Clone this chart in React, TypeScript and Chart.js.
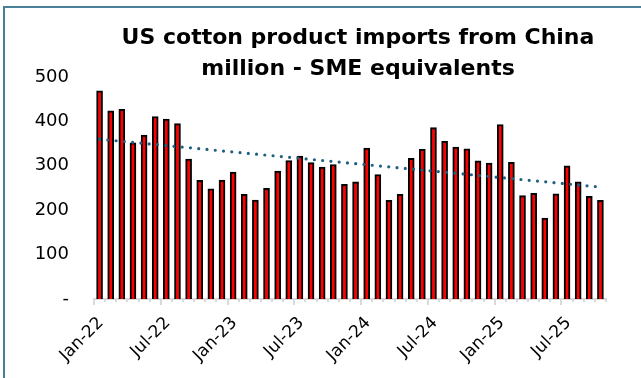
import React, { useEffect, useRef } from 'react';
import { Chart, registerables } from 'chart.js';

Chart.register(...registerables);

const months = [
  'Jan-22', 'Feb-22', 'Mar-22', 'Apr-22', 'May-22', 'Jun-22', 'Jul-22', 'Aug-22', 'Sep-22', 'Oct-22', 'Nov-22', 'Dec-22',
  'Jan-23', 'Feb-23', 'Mar-23', 'Apr-23', 'May-23', 'Jun-23', 'Jul-23', 'Aug-23', 'Sep-23', 'Oct-23', 'Nov-23', 'Dec-23',
  'Jan-24', 'Feb-24', 'Mar-24', 'Apr-24', 'May-24', 'Jun-24', 'Jul-24', 'Aug-24', 'Sep-24', 'Oct-24', 'Nov-24', 'Dec-24',
  'Jan-25', 'Feb-25', 'Mar-25', 'Apr-25', 'May-25', 'Jun-25', 'Jul-25', 'Aug-25', 'Sep-25', 'Oct-25',
];

const imports = [
  469, 424, 427, 352, 369, 411, 405, 395, 315, 267, 248, 268,
  286, 236, 223, 249, 288, 312, 322, 307, 297, 303, 258, 264,
  340, 280, 222, 236, 317, 337, 386, 355, 342, 338, 311, 306,
  393, 308, 233, 238, 182, 237, 300, 264, 231, 222,
];

// linear trend line, read at first and last month
const trendStart = 360;
const trendEnd = 252;

const yTicks = [0, 100, 200, 300, 400, 500];
const titleLines = ['US cotton product imports from China', 'million - SME equivalents'];

const FONT = '"DejaVu Sans"';

export default function App() {
  const ref = useRef<HTMLCanvasElement>(null);

  useEffect(() => {
    const canvas = ref.current;
    if (!canvas) return;

    const majorTicks = months
      .map((m, i) => (i % 6 === 0 ? i - 0.5 : null))
      .filter((v) => v !== null) as number[];

    const minorTickPlugin = {
      id: 'minorTicks',
      afterDraw(chart: any) {
        const xs = chart.scales.x;
        const y0 = chart.chartArea.bottom;
        const c = chart.ctx;
        c.save();
        c.strokeStyle = '#d9d9d9';
        c.lineWidth = 2;
        for (let i = 0; i <= months.length; i++) {
          if (i % 6 === 0) continue;
          const px = Math.round(xs.getPixelForValue(i - 0.5));
          c.beginPath();
          c.moveTo(px, y0);
          c.lineTo(px, y0 + 3);
          c.stroke();
        }
        c.restore();
      },
    };

    const titlePlugin = {
      id: 'titleLines',
      afterDraw(chart: any) {
        const c = chart.ctx;
        c.save();
        c.fillStyle = '#000';
        c.font = 'bold 22px ' + FONT;
        c.textAlign = 'center';
        c.textBaseline = 'alphabetic';
        c.fillText(titleLines[0], 358, 44);
        c.fillText(titleLines[1], 358, 75);
        c.restore();
      },
    };

    const chart = new Chart(canvas, {
      type: 'bar',
      data: {
        datasets: [
          {
            type: 'line',
            data: [
              { x: 0, y: trendStart },
              { x: imports.length - 1, y: trendEnd },
            ],
            borderColor: '#1F5F7F',
            borderWidth: 3.2,
            borderDash: [0, 8.3],
            borderCapStyle: 'round',
            pointRadius: 0,
            fill: false,
            order: 1,
          } as any,
          {
            type: 'bar',
            data: imports.map((v, i) => ({ x: i, y: v })),
            backgroundColor: '#FF0000',
            borderColor: '#000000',
            borderWidth: 2,
            barThickness: 6,
            order: 2,
          } as any,
        ],
      },
      options: {
        responsive: false,
        animation: false,
        devicePixelRatio: 1,
        layout: { padding: { top: 77, right: 35, left: 0, bottom: 0 } },
        plugins: {
          legend: { display: false },
          tooltip: { enabled: false },
          title: { display: false },
        },
        scales: {
          x: {
            type: 'linear',
            offset: false,
            min: -0.5,
            max: months.length - 0.5,
            afterBuildTicks: (s: any) => {
              s.ticks = majorTicks.map((v) => ({ value: v }));
            },
            afterFit: (s: any) => {
              s.height = 79;
            },
            ticks: {
              autoSkip: false,
              minRotation: 45,
              maxRotation: 45,
              padding: 8,
              labelOffset: 7,
              color: '#000',
              font: { family: FONT, size: 17 },
              callback: (v: any) => months[Math.round(Number(v) + 0.5)] ?? '',
            },
            grid: {
              offset: false,
              drawOnChartArea: false,
              drawTicks: true,
              tickLength: 6,
              color: '#d9d9d9',
              lineWidth: 2,
            },
            border: { display: true, color: '#d9d9d9', width: 2 },
          } as any,
          y: {
            min: 0,
            max: 500,
            afterBuildTicks: (s: any) => {
              s.ticks = yTicks.map((v) => ({ value: v }));
            },
            afterFit: (s: any) => {
              s.width = 94;
            },
            ticks: {
              padding: 25,
              color: '#000',
              font: { family: FONT, size: 18 },
              callback: (v: any) => (Number(v) === 0 ? '-' : String(v)),
            },
            grid: { display: false, drawTicks: false },
            border: { display: false },
          } as any,
        },
      },
      plugins: [minorTickPlugin, titlePlugin],
    });

    return () => chart.destroy();
  }, []);

  return (
    <div style={{ position: 'fixed', left: 0, top: 0, width: 641, height: 378, background: '#fff' }}>
      <div
        style={{
          position: 'absolute',
          left: 3,
          top: 6,
          width: 636,
          height: 370,
          borderTop: '2px solid #4A7F98',
          borderLeft: '2px solid #4A7F98',
        }}
      />
      <canvas ref={ref} width={641} height={378} style={{ position: 'absolute', left: 0, top: 0, width: 641, height: 378 }} />
    </div>
  );
}
